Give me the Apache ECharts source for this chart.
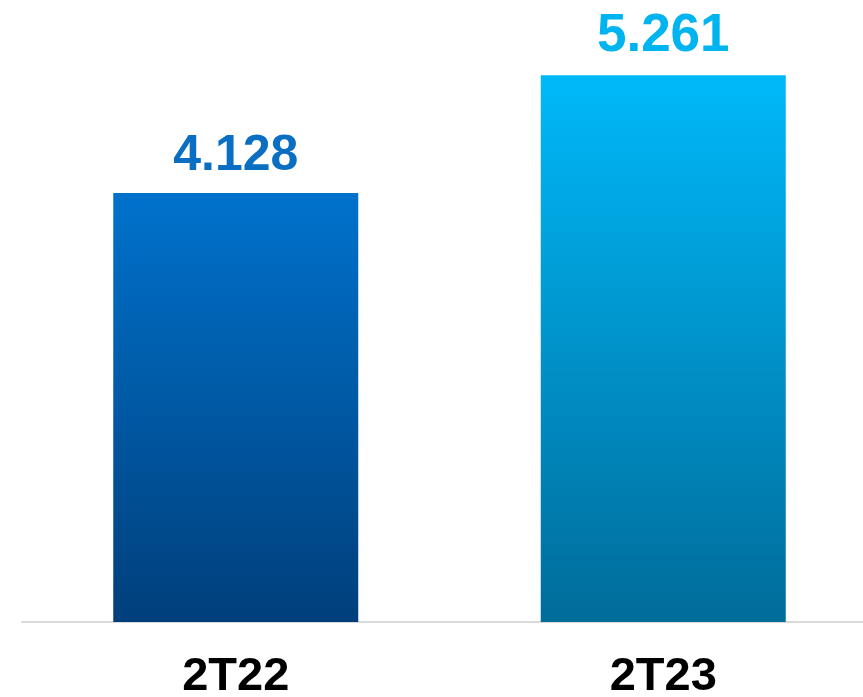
<!DOCTYPE html>
<html><head><meta charset="utf-8">
<script src="https://cdn.jsdelivr.net/npm/echarts@6/dist/echarts.min.js"></script>
<style>html,body{margin:0;padding:0;background:#fff}#c{width:863px;height:697px}</style>
</head><body><div id="c"></div>
<script>
var categories = ['2T22', '2T23'];
var values = [4128, 5261];
var valueLabels = ['4.128', '5.261'];
var topColors = ['#0072cc', '#00b9f9'];
var bottomColors = ['#003f7b', '#006c9a'];
var labelColors = ['#0a6fc2', '#00b4f0'];
var labelSizes = [50, 53];

var chart = echarts.init(document.getElementById('c'));
chart.setOption({
  animation: false,
  grid: {left: 22, width: 855, top: 0, height: 622, outerBoundsMode: 'none', containLabel: false},
  xAxis: {
    type: 'category', data: categories,
    axisLine: {lineStyle: {color: '#d9d9d9', width: 2}},
    axisTick: {show: false},
    axisLabel: {color: '#000', fontFamily: 'Liberation Sans', fontWeight: 'bold', fontSize: 47, margin: 32}
  },
  yAxis: {type: 'value', min: 0, max: 5985, show: false, splitLine: {show: false}},
  series: [{
    type: 'bar', barWidth: 245,
    data: values.map(function (v, i) {
      return {
        value: v,
        itemStyle: {color: new echarts.graphic.LinearGradient(0, 0, 0, 1, [
          {offset: 0, color: topColors[i]}, {offset: 1, color: bottomColors[i]}])},
        label: {show: true, position: 'top', distance: 12, formatter: valueLabels[i],
          color: labelColors[i], fontFamily: 'Liberation Sans', fontWeight: 'bold', fontSize: labelSizes[i]}
      };
    })
  }]
});
</script></body></html>
